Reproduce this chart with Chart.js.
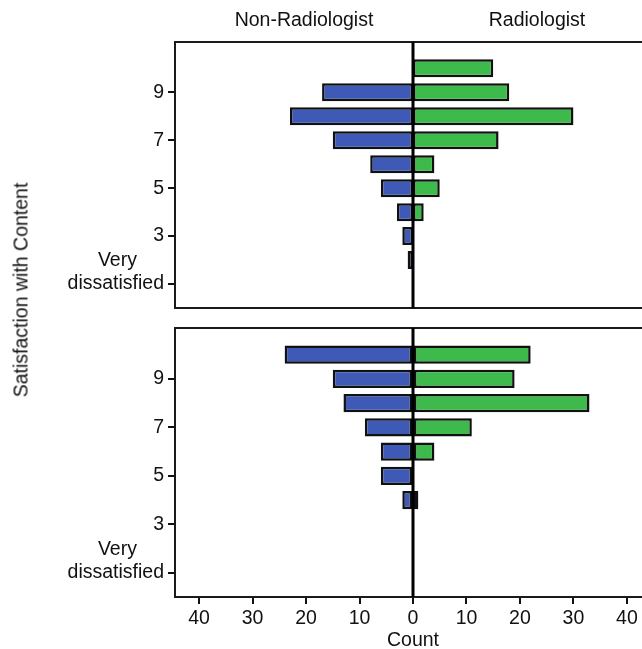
<!DOCTYPE html>
<html><head><meta charset="utf-8">
<script src="https://cdn.jsdelivr.net/npm/chart.js@4.4.1/dist/chart.umd.min.js"></script>
<style>
html,body{margin:0;padding:0;width:642px;height:649px;overflow:hidden;background:#fff;}
#wrap{position:relative;width:642px;height:649px;overflow:hidden;}
canvas{position:absolute;left:0;}
#c1{top:0}
#c2{top:320px}
#ytitle{position:absolute;left:21px;top:290px;transform:translate(-50%,-50%) rotate(-90deg);font:19.5px "Liberation Sans",Arial,sans-serif;white-space:nowrap;color:#111;}
</style></head><body>
<div id="wrap">
<canvas id="c1" width="660" height="320"></canvas>
<canvas id="c2" width="660" height="332"></canvas>
<div id="ytitle">Satisfaction with Content</div>
</div>
<script>
const categories = [10, 9, 8, 7, 6, 5, 4, 3, 2, 1];
const yTickValues = [1, 3, 5, 7, 9];
const xTickValues = [-40, -30, -20, -10, 0, 10, 20, 30, 40];
const groupNames = ['Non-Radiologist', 'Radiologist'];
const axisTitles = { x: 'Count', y: 'Satisfaction with Content' };
const lowestLabel = ['Very', 'dissatisfied'];
const topNonRadiologist = [0, 17, 23, 15, 8, 6, 3, 2, 1, 0];
const topRadiologist = [15, 18, 30, 16, 4, 5, 2, 0, 0, 0];
const bottomNonRadiologist = [24, 15, 13, 9, 6, 6, 2, 0, 0, 0];
const bottomRadiologist = [22, 19, 33, 11, 4, 0, 1, 0, 0, 0];

const FONT = { family: '"Liberation Sans", Arial, Helvetica, sans-serif', size: 19.5 };
const TXT = '#111';
const BLUE = '#3f5ab6';
const GREEN = '#3eb94b';
const NB = '\u00a0';

function points(vals, sign) {
  return categories.map((c, i) => vals[i] ? { x: sign * vals[i], y: c } : null).filter(p => p);
}

const framePlugin = {
  id: 'frame',
  afterDatasetsDraw(chart) {
    const { ctx, chartArea: a, scales: { x } } = chart;
    ctx.save();
    ctx.strokeStyle = '#1a1a1a';
    ctx.lineWidth = 2;
    ctx.strokeRect(a.left, a.top, a.right - a.left, a.bottom - a.top);
    const z = x.getPixelForValue(0);
    ctx.strokeStyle = '#000';
    ctx.lineWidth = 3;
    ctx.beginPath();
    ctx.moveTo(z, a.top);
    ctx.lineTo(z, a.bottom);
    ctx.stroke();
    ctx.restore();
  }
};

const headerPlugin = {
  id: 'headers',
  afterDraw(chart) {
    const { ctx, chartArea: a, scales: { x } } = chart;
    const z = x.getPixelForValue(0);
    ctx.save();
    ctx.font = FONT.size + 'px ' + FONT.family;
    ctx.fillStyle = TXT;
    ctx.textAlign = 'center';
    ctx.textBaseline = 'middle';
    ctx.fillText(groupNames[0], (a.left + z) / 2 + 10, 21);
    ctx.fillText(groupNames[1], (z + a.right) / 2 + 5, 21);
    ctx.restore();
  }
};

function noPad(s) { s.paddingTop = 0; s.paddingBottom = 0; s.paddingLeft = 0; s.paddingRight = 0; }

function makePanel(id, nonRad, rad, showX, padding, extraPlugins) {
  return new Chart(document.getElementById(id), {
    type: 'bar',
    data: {
      datasets: [
        { label: groupNames[0], data: points(nonRad, -1), backgroundColor: BLUE, borderColor: '#111', borderWidth: 2.5, borderSkipped: false, grouped: false, barPercentage: 0.75, categoryPercentage: 1 },
        { label: groupNames[1], data: points(rad, 1), backgroundColor: GREEN, borderColor: '#111', borderWidth: 2.5, borderSkipped: false, grouped: false, barPercentage: 0.75, categoryPercentage: 1 }
      ]
    },
    options: {
      indexAxis: 'y',
      responsive: false,
      animation: false,
      layout: { padding },
      plugins: { legend: { display: false }, tooltip: { enabled: false } },
      scales: {
        y: {
          type: 'linear', min: 0, max: 11.1, offset: false,
          afterBuildTicks: s => { s.ticks = yTickValues.map(v => ({ value: v })); },
          afterFit: s => { s.width = 175; noPad(s); },
          ticks: {
            autoSkip: false, color: TXT, font: FONT, padding: 4,
            callback: v => v === 1 ? [lowestLabel[0] + NB.repeat(5), lowestLabel[1], ''] : String(v)
          },
          grid: { offset: false, drawOnChartArea: false, drawTicks: true, tickLength: 7, color: '#111', lineWidth: 2 },
          border: { display: false }
        },
        x: {
          type: 'linear', min: -44.5, max: 44.5, display: showX, offset: false,
          afterBuildTicks: s => { s.ticks = xTickValues.map(v => ({ value: v })); },
          afterFit: s => { s.height = showX ? 55 : 0; noPad(s); },
          ticks: { autoSkip: false, color: TXT, font: FONT, padding: 3, maxRotation: 0, callback: v => String(Math.abs(v)) },
          grid: { offset: false, drawOnChartArea: false, drawTicks: true, tickLength: 7, color: '#111', lineWidth: 2 },
          border: { display: false },
          title: { display: true, text: axisTitles.x, color: TXT, font: FONT, padding: 0 }
        }
      }
    },
    plugins: [framePlugin].concat(extraPlugins)
  });
}

makePanel('c1', topNonRadiologist, topRadiologist, false, { top: 42, bottom: 12, left: 0, right: 9 }, [headerPlugin]);
makePanel('c2', bottomNonRadiologist, bottomRadiologist, true, { top: 8, bottom: 0, left: 0, right: 9 }, []);
</script>
</body></html>
